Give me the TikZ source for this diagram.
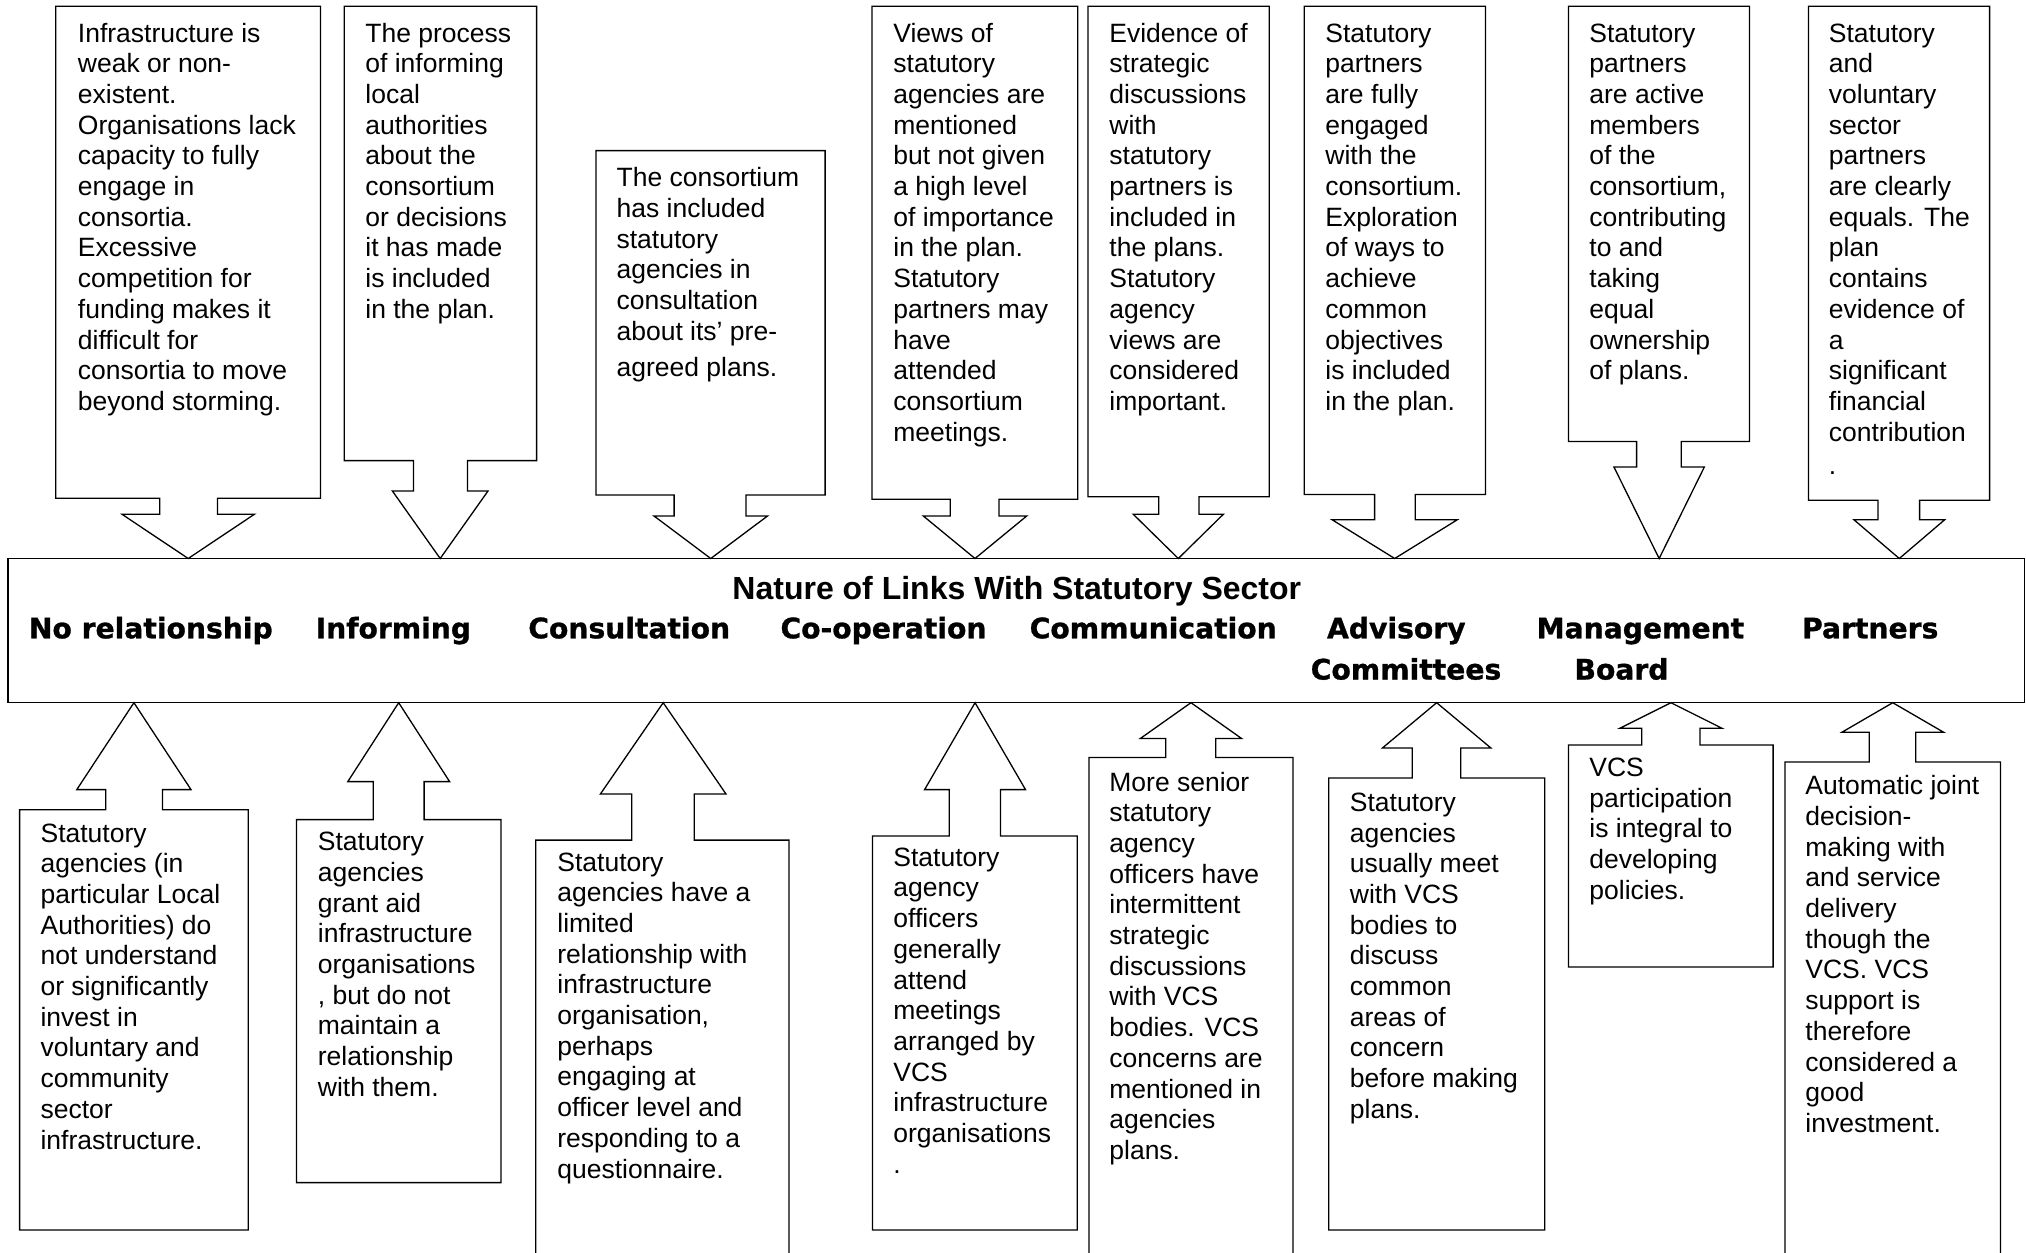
\documentclass[tikz,border=0pt]{standalone}
\usepackage{fontspec}
\setmainfont{Liberation Sans}
\newfontfamily\labelfont{DejaVu Sans}[BoldFeatures={FakeBold=1}]

% body text of the callouts
\newcommand\bodysize{\fontsize{13.25pt}{15.35pt}\selectfont}
% a left-aligned block whose baseline is the first line
\newcommand\stack[1]{\begin{tabular}[t]{@{}l@{}}#1\end{tabular}}

% callout pointing down onto the bar: L,T,R,B, stem L/R, shoulder y, head L/R
\newcommand\downbox[9]{%
  \draw[box] (#1,#2) -- (#3,#2) -- (#3,#4) -- (#6,#4) -- (#6,#7) -- (#9,#7)
    -- ({(#8+#9)/2},558.5) -- (#8,#7) -- (#5,#7) -- (#5,#4) -- (#1,#4) -- cycle;}
% callout pointing up onto the bar: L,T,R,B, stem L/R, shoulder y, head L/R
\newcommand\upbox[9]{%
  \draw[box] (#1,#2) -- (#5,#2) -- (#5,#7) -- (#8,#7)
    -- ({(#8+#9)/2},702.7) -- (#9,#7) -- (#6,#7) -- (#6,#2) -- (#3,#2)
    -- (#3,#4) -- (#1,#4) -- cycle;}

\begin{document}
\begin{tikzpicture}[x=0.5pt,y=-0.5pt,
  box/.style={draw=black,line width=0.65pt,fill=white},
  txt/.style={anchor=base west,inner sep=0pt,font=\bodysize},
  stage/.style={anchor=base,inner sep=0pt,font=\labelfont\bfseries\fontsize{14.1pt}{17pt}\selectfont},
  headline/.style={anchor=base,inner sep=0pt,font=\bfseries\fontsize{16pt}{19pt}\selectfont}]
\useasboundingbox (0,0) rectangle (2026,1253);
\clip (0,0) rectangle (2026,1253);

% central bar
\draw[line width=0.7pt] (8,558.5) rectangle (2024.5,702.7);
\node[headline] (title) at (1016.8,599) {Nature of Links With Statutory Sector};
\node[stage] (s1) at (150.8,638.3) {No relationship};
\node[stage] (s2) at (393.4,638.3) {Informing};
\node[stage] (s3) at (629.2,638.3) {Consultation};
\node[stage] (s4) at (883.5,638.3) {Co-operation};
\node[stage] (s5) at (1153.2,638.3) {Communication};
\node[stage] (s6a) at (1396.3,638.3) {Advisory};
\node[stage] (s6b) at (1406,679.5) {Committees};
\node[stage] (s7a) at (1640.4,638.3) {Management};
\node[stage] (s7b) at (1621.5,679.5) {Board};
\node[stage] (s8) at (1870.2,638.3) {Partners};

% callouts above the bar
\downbox{55.8}{6.3}{320.5}{498.3}{159.8}{217.4}{514.2}{121.9}{254.5}
\downbox{344.2}{6.3}{536.6}{460.6}{413.4}{467.4}{491}{392.4}{488}
\downbox{596}{150.6}{825.1}{495}{674.1}{746}{516}{654}{767.5}
\downbox{872}{6.3}{1077.7}{499.3}{950.3}{999}{516}{923.3}{1026.7}
\downbox{1088}{6.3}{1269.3}{496.7}{1158.7}{1199}{514.3}{1133.3}{1223.3}
\downbox{1304.3}{6.3}{1485.5}{494.5}{1374.6}{1415.2}{519.8}{1332.2}{1457.2}
\downbox{1568.5}{6.3}{1749.5}{441.4}{1636.6}{1681.2}{466.9}{1613.9}{1704.4}
\downbox{1808.5}{6.3}{1989.6}{500.2}{1878}{1919.6}{519.8}{1854}{1944.6}

% callouts below the bar
\upbox{19.6}{809.7}{248.2}{1230}{105.8}{162.5}{789.6}{76.8}{191}
\upbox{296.4}{819.6}{500.9}{1182.6}{373.2}{424.1}{781.6}{347.8}{449.6}
\upbox{535.7}{840.1}{788.9}{1300}{631.7}{694.3}{794}{600.4}{726}
\upbox{872.4}{836}{1077.3}{1230}{949.2}{1000.5}{789.6}{924.6}{1025.5}
\upbox{1088.9}{757.5}{1293}{1300}{1165.7}{1215.7}{738.5}{1140.3}{1241.6}
\upbox{1328.7}{778}{1544.7}{1230}{1412.2}{1460.7}{748}{1382.4}{1490.9}
\upbox{1568.4}{745}{1773.1}{966.9}{1641.8}{1700}{728.2}{1620}{1721.9}
\upbox{1784.9}{761.9}{2000.5}{1300}{1869.3}{1915.7}{732.3}{1841.8}{1943.7}

% texts above
\node[txt] (t1) at (77.5,42) {\stack{Infrastructure is\\weak or non-\\existent.\\Organisations lack\\capacity to fully\\engage in\\consortia.\\Excessive\\competition for\\funding makes it\\difficult for\\consortia to move\\beyond storming.}};
\node[txt] (t2) at (365,42) {\stack{The process\\of informing\\local\\authorities\\about the\\consortium\\or decisions\\it has made\\is included\\in the plan.}};
\node[txt] (t3) at (616.2,186.8) {\stack{The consortium\\has included\\statutory\\agencies in\\consultation\\about its’ pre-\\[2.5pt]agreed plans.}};
\node[txt] (t4) at (893,42) {\stack{Views of\\statutory\\agencies are\\mentioned\\but not given\\a high level\\of importance\\in the plan.\\Statutory\\partners may\\have\\attended\\consortium\\meetings.}};
\node[txt] (t5) at (1109,42) {\stack{Evidence of\\strategic\\discussions\\with\\statutory\\partners is\\included in\\the plans.\\Statutory\\agency\\views are\\considered\\important.}};
\node[txt] (t6) at (1325,42) {\stack{Statutory\\partners\\are fully\\engaged\\with the\\consortium.\\Exploration\\of ways to\\achieve\\common\\objectives\\is included\\in the plan.}};
\node[txt] (t7) at (1589,42) {\stack{Statutory\\partners\\are active\\members\\of the\\consortium,\\contributing\\to and\\taking\\equal\\ownership\\of plans.}};
\node[txt] (t8) at (1828.5,42) {\stack{Statutory\\and\\voluntary\\sector\\partners\\are clearly\\equals. The\\plan\\contains\\evidence of\\a\\significant\\financial\\contribution\\[1.5pt].}};

% texts below
\node[txt] (b1) at (40.2,842) {\stack{Statutory\\agencies (in\\particular Local\\Authorities) do\\not understand\\or significantly\\invest in\\voluntary and\\community\\sector\\infrastructure.}};
\node[txt] (b2) at (317.5,850.7) {\stack{Statutory\\agencies\\grant aid\\infrastructure\\organisations\\, but do not\\maintain a\\relationship\\with them.}};
\node[txt] (b3) at (557,871) {\stack{Statutory\\agencies have a\\limited\\relationship with\\infrastructure\\organisation,\\perhaps\\engaging at\\officer level and\\responding to a\\questionnaire.}};
\node[txt] (b4) at (893,866.2) {\stack{Statutory\\agency\\officers\\generally\\attend\\meetings\\arranged by\\VCS\\infrastructure\\organisations\\.}};
\node[txt] (b5) at (1109,791) {\stack{More senior\\statutory\\agency\\officers have\\intermittent\\strategic\\discussions\\with VCS\\bodies. VCS\\concerns are\\mentioned in\\agencies\\plans.}};
\node[txt] (b6) at (1349.5,811.3) {\stack{Statutory\\agencies\\usually meet\\with VCS\\bodies to\\discuss\\common\\areas of\\concern\\before making\\plans.}};
\node[txt] (b7) at (1589,776.5) {\stack{VCS\\participation\\is integral to\\developing\\policies.}};
\node[txt] (b8) at (1805,794.7) {\stack{Automatic joint\\decision-\\making with\\and service\\delivery\\though the\\VCS. VCS\\support is\\therefore\\considered a\\good\\investment.}};
\end{tikzpicture}
\end{document}
